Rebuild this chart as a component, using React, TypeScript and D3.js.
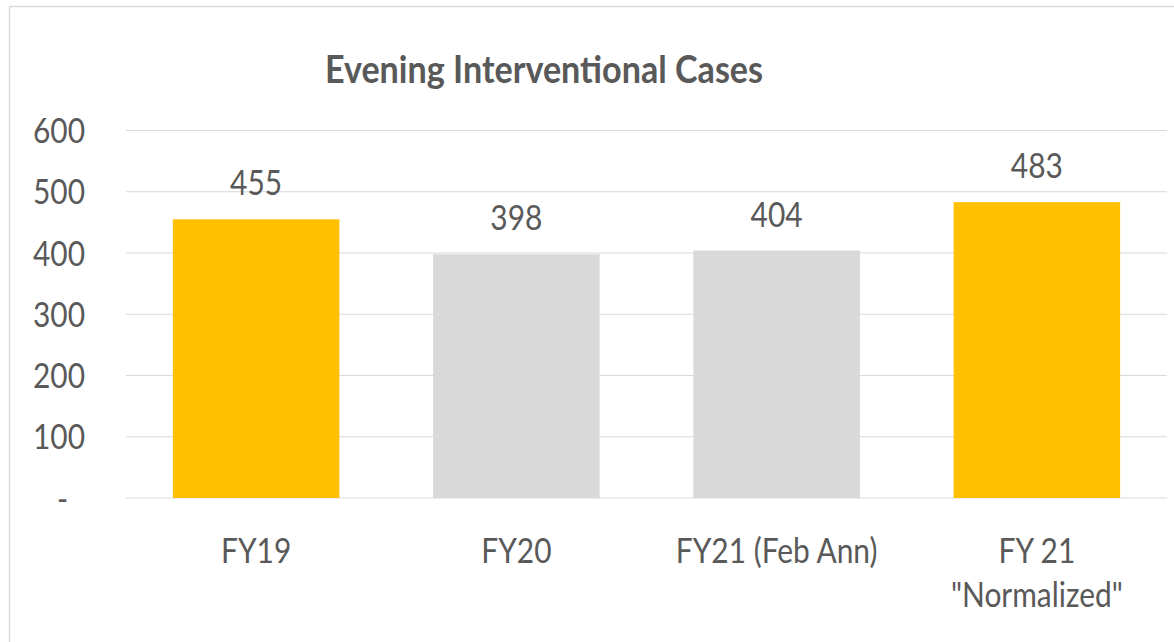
import React from "react";
import * as d3 from "d3";

const categories: string[][] = [["FY19"], ["FY20"], ["FY21 (Feb Ann)"], ["FY 21", "\"Normalized\""]];
const values: number[] = [455, 398, 404, 483];
const barColors: string[] = ["#FFC000", "#D9D9D9", "#D9D9D9", "#FFC000"];
const yTicks: number[] = [0, 100, 200, 300, 400, 500, 600];
const yTickLabels: string[] = ["-", "100", "200", "300", "400", "500", "600"];
const title = "Evening Interventional Cases";

const W = 1174;
const H = 642;
const SX = 0.855;
const FONT = "Lato, 'Open Sans', sans-serif";
const TEXT = "#595959";

export default function App() {
  const x = d3
    .scaleBand<number>()
    .domain(d3.range(values.length))
    .range([126, 1167])
    .paddingInner(0.36)
    .paddingOuter(0.18);
  const y = d3.scaleLinear().domain([0, 600]).range([498, 130.5]);

  const txt = (
    key: string,
    tx: number,
    ty: number,
    s: string,
    size: number,
    anchor: string,
    weight = 400,
    sx = SX
  ) => (
    <text
      key={key}
      transform={`translate(${tx},${ty}) scale(${sx},1)`}
      textAnchor={anchor}
      fontFamily={FONT}
      fontSize={size}
      fontWeight={weight}
      fill={TEXT}
    >
      {s}
    </text>
  );

  return (
    <svg
      width={W}
      height={H}
      style={{ position: "absolute", left: 0, top: 0, display: "block", background: "#fff" }}
    >
      <rect x={0} y={0} width={W} height={H} fill="#fff" />
      {/* frame */}
      <line x1={9.5} y1={6.5} x2={W} y2={6.5} stroke="#D9D9D9" strokeWidth={1.5} />
      <line x1={9.5} y1={6.5} x2={9.5} y2={H} stroke="#D9D9D9" strokeWidth={1.5} />

      {txt("title", 544, 83, title, 37.5, "middle", 700, 0.91)}

      {/* gridlines */}
      {yTicks.map((t) => (
        <line
          key={"g" + t}
          x1={126}
          x2={1167}
          y1={y(t)}
          y2={y(t)}
          stroke="#D9D9D9"
          strokeWidth={1.2}
        />
      ))}

      {/* y tick labels */}
      {yTicks.map((t, i) =>
        txt("yt" + t, t === 0 ? 68 : 85, y(t) + 12.5, yTickLabels[i], 35, "end")
      )}

      {/* bars */}
      {values.map((v, i) => (
        <rect
          key={"b" + i}
          x={x(i)!}
          y={y(v)}
          width={x.bandwidth()}
          height={y(0) - y(v)}
          fill={barColors[i]}
        />
      ))}

      {/* value labels */}
      {values.map((v, i) =>
        txt("v" + i, x(i)! + x.bandwidth() / 2, y(v) - 24, String(v), 35, "middle")
      )}

      {/* category labels */}
      {categories.map((lines, i) =>
        lines.map((l, j) =>
          txt("c" + i + "_" + j, x(i)! + x.bandwidth() / 2, 563 + j * 44, l, 35, "middle")
        )
      )}
    </svg>
  );
}
